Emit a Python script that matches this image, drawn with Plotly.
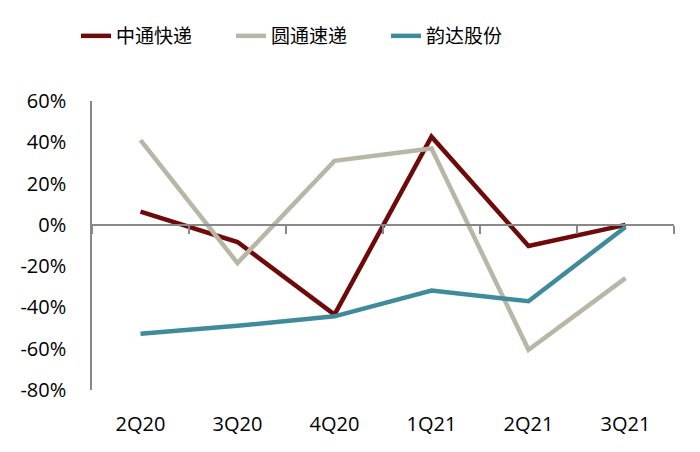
import plotly.graph_objects as go

quarters = ["2Q20", "3Q20", "4Q20", "1Q21", "2Q21", "3Q21"]
zto = [6.4, -8.3, -43.5, 42.7, -10.2, 0.0]
yto = [41.0, -18.5, 31.0, 37.0, -60.5, -25.8]
yunda = [-52.7, -48.9, -44.3, -31.8, -37.0, -1.0]
y_ticks = [60, 40, 20, 0, -20, -40, -60, -80]
y_tick_text = ["60%", "40%", "20%", "0%", "-20%", "-40%", "-60%", "-80%"]

series = [
    ("中通快递", zto, "#6E0A0A"),
    ("圆通速递", yto, "#B8B7A6"),
    ("韵达股份", yunda, "#3F8A9B"),
]

fig = go.Figure()
for name, vals, color in series:
    fig.add_trace(go.Scatter(x=quarters, y=vals, name=name, mode="lines",
                             line=dict(color=color, width=4.5)))

# dummy trace for the zero-line axis with boundary ticks
fig.add_trace(go.Scatter(x=quarters, y=[0] * len(quarters), xaxis="x2", mode="lines",
                         line=dict(width=0), showlegend=False, hoverinfo="skip"))

ymin, ymax = -80, 60
xr = [-0.5, len(quarters) - 0.5]
font_fam = "Open Sans, Noto Sans CJK SC, sans-serif"
fig.update_layout(
    width=700, height=452,
    margin=dict(l=84, r=34, t=93, b=70),
    plot_bgcolor="white", paper_bgcolor="white",
    font=dict(family=font_fam, size=20, color="#000000"),
    showlegend=True,
    legend=dict(orientation="h", xref="container", yref="container",
                x=68 / 700, y=(452 - 28) / 452, xanchor="left", yanchor="middle",
                font=dict(family="Noto Sans CJK SC, sans-serif", size=19, color="#000"),
                entrywidth=110, bgcolor="rgba(0,0,0,0)"),
    xaxis=dict(type="category", categoryarray=quarters, range=xr, showline=False,
               showgrid=False, ticks="", zeroline=False, ticklabelstandoff=20,
               tickfont=dict(family=font_fam, size=20)),
    xaxis2=dict(type="category", categoryarray=quarters, range=xr, overlaying="x",
                anchor="free", position=(0 - ymin) / (ymax - ymin), showline=True,
                linecolor="#888888", linewidth=1.5, ticks="outside", tickson="boundaries",
                ticklen=8, tickcolor="#888888", tickwidth=1.5, showticklabels=False,
                showgrid=False, side="bottom"),
    yaxis=dict(range=[ymin, ymax], tickvals=y_ticks, ticktext=y_tick_text,
               showline=True, linecolor="#888888", linewidth=1.5, showgrid=False,
               zeroline=False, ticks="", ticklabelstandoff=20,
               tickfont=dict(family=font_fam, size=20)),
)

fig.write_html("out.html")
